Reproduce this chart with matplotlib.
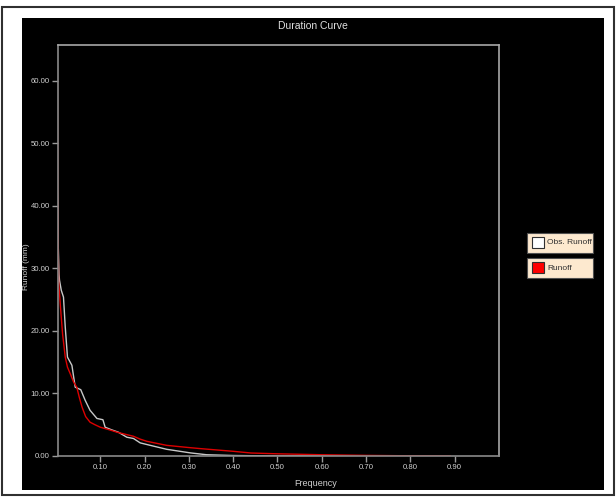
import matplotlib
matplotlib.use("Agg")
import matplotlib.pyplot as plt
from matplotlib.patches import Rectangle

plt.rcParams['font.family'] = ['Liberation Sans', 'DejaVu Sans']

# Data
obs_freq = [0.003, 0.004, 0.005, 0.007, 0.008, 0.012, 0.017, 0.021, 0.026, 0.036, 0.0435,
            0.056, 0.066, 0.077, 0.0925, 0.106, 0.111, 0.125, 0.141, 0.160, 0.175,
            0.190, 0.213, 0.25, 0.28, 0.303, 0.34, 0.40, 0.46, 0.55, 0.65, 0.74]
obs_runoff = [42.5, 40.0, 34.0, 29.0, 28.1, 26.5, 25.4, 20.6, 15.8, 14.5, 11.0,
              10.6, 8.9, 7.3, 6.0, 5.8, 4.6, 4.2, 3.8, 3.0, 2.8,
              2.1, 1.7, 1.07, 0.75, 0.5, 0.2, 0.08, 0.03, 0.01, 0.005, 0.0]

sim_freq = [0.003, 0.004, 0.005, 0.006, 0.010, 0.015, 0.021, 0.026, 0.032, 0.040, 0.047,
            0.053, 0.059, 0.067, 0.077, 0.088, 0.100, 0.120, 0.138, 0.155, 0.175,
            0.190, 0.205, 0.25, 0.30, 0.326, 0.40, 0.44, 0.50, 0.60, 0.70, 0.80, 0.89]
sim_runoff = [64.0, 42.0, 34.0, 28.0, 24.0, 19.5, 15.8, 14.2, 13.2, 11.8, 11.0,
              9.3, 7.8, 6.3, 5.4, 5.0, 4.6, 4.2, 3.8, 3.5, 3.15,
              2.7, 2.35, 1.7, 1.35, 1.18, 0.75, 0.48, 0.35, 0.2, 0.1, 0.03, 0.0]

series_labels = ["Obs. Runoff", "Runoff"]
x_ticks = [0.10, 0.20, 0.30, 0.40, 0.50, 0.60, 0.70, 0.80, 0.90]
y_ticks = [0, 10, 20, 30, 40, 50, 60]

W, H = 616, 497
fig = plt.figure(figsize=(W / 100, H / 100), dpi=100)
fig.patch.set_facecolor('white')

def fx(px):
    return px / W

def fy(py):
    return 1 - py / H

# outer border
fig.patches.append(Rectangle((fx(2), fy(495)), fx(612), 488 / H, transform=fig.transFigure,
                             fill=False, edgecolor='#303030', linewidth=1.5, zorder=-2))
# black panel
fig.patches.append(Rectangle((fx(22), fy(490)), fx(582), 472 / H, transform=fig.transFigure,
                             facecolor='black', edgecolor='none', zorder=-1))

ax = fig.add_axes([fx(57.5), fy(456), fx(499 - 57.5), (456 - 45) / H])
ax.set_zorder(2)
ax.set_facecolor('black')

ax.plot(obs_freq, obs_runoff, color='#c8c8c8', linewidth=1.0, label=series_labels[0])
ax.plot(sim_freq, sim_runoff, color='#dd0000', linewidth=1.0, label=series_labels[1])

ax.set_xlim(0.0035, 1.0)
ax.set_ylim(0, 65.7)
ax.set_xticks(x_ticks)
ax.set_xticklabels([f"{t:.2f}" for t in x_ticks])
ax.set_yticks(y_ticks)
ax.set_yticklabels([f"{t:.2f}" for t in y_ticks])

for s in ['left', 'bottom']:
    ax.spines[s].set_color('#8a8a8a')
    ax.spines[s].set_linewidth(1.2)
for s in ['top', 'right']:
    ax.spines[s].set_color('#a8a8a8')
    ax.spines[s].set_linewidth(1.2)

ax.tick_params(axis='both', colors='#9a9a9a', labelcolor='#d0d0d0', labelsize=5.6,
               length=4, width=1, pad=1.5)

fig.text(fx(313), fy(26), "Duration Curve", color='#e0e0e0', fontsize=7.5,
         ha='center', va='center', zorder=3)
fig.text(fx(316), fy(484), "Frequency", color='#d0d0d0', fontsize=6.5,
         ha='center', va='center', zorder=3)
fig.text(fx(26), fy(267), "Runoff (mm)", color='#d0d0d0', fontsize=6,
         ha='center', va='center', rotation=90, zorder=3)

# legend boxes
swatch_colors = ['white', '#ff0000']
box_tops = [233, 258]
for lab, col, top in zip(series_labels, swatch_colors, box_tops):
    fig.patches.append(Rectangle((fx(527), fy(top + 20)), fx(66), 20 / H,
                                 transform=fig.transFigure, facecolor='#fde9cf',
                                 edgecolor='#505050', linewidth=0.8, zorder=3))
    fig.patches.append(Rectangle((fx(532), fy(top + 15)), fx(12), 11 / H,
                                 transform=fig.transFigure, facecolor=col,
                                 edgecolor='#303030', linewidth=0.8, zorder=4))
    fig.text(fx(547), fy(top + 10), lab, color='#303030', fontsize=6,
             ha='left', va='center', zorder=5)

fig.savefig('out.png', dpi=100, facecolor='white')
